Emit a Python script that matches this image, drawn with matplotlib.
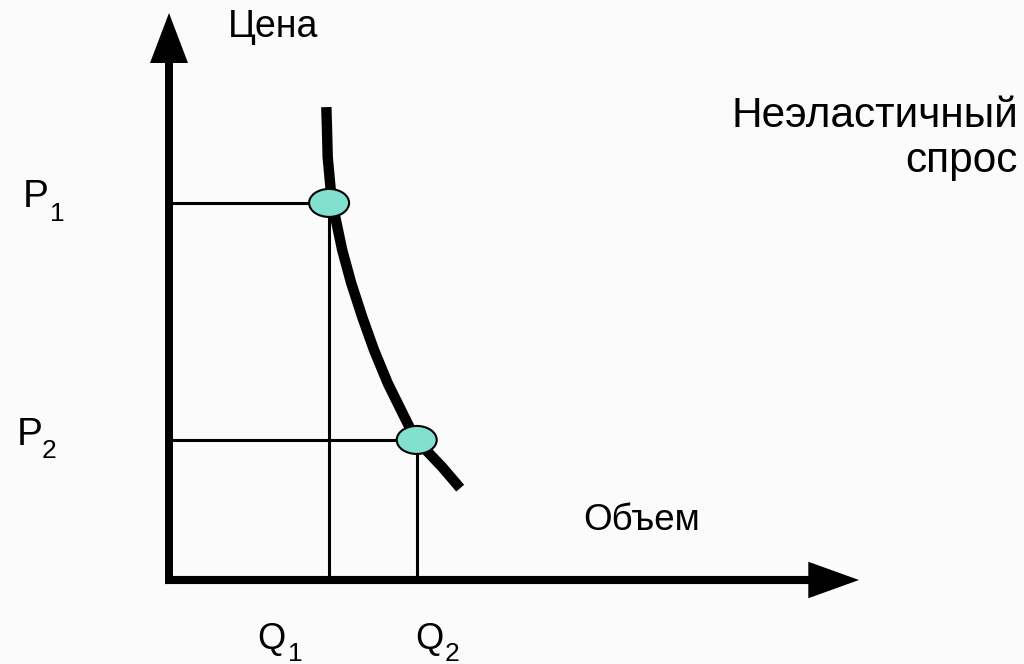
import matplotlib
matplotlib.use("Agg")
import matplotlib.pyplot as plt
from matplotlib.patches import Ellipse

plt.rcParams['font.family'] = ['Liberation Sans', 'DejaVu Sans']

# demand curve (quantity, price)
curve_q = [2.28, 2.29, 2.30, 2.33, 2.36, 2.41, 2.51, 2.64, 2.80, 2.97, 3.17, 3.41, 3.57, 3.96, 4.22]
curve_p = [8.34, 7.94, 7.46, 7.06, 6.67, 6.40, 5.82, 5.24, 4.64, 4.06, 3.47, 2.88, 2.49, 1.99, 1.62]

# the two marked points
point_q = [2.32, 3.59]
point_p = [6.65, 2.47]
price_labels = ["1", "2"]
qty_labels = ["1", "2"]

axis_q_max = 10.0
axis_p_max = 10.0

# pixel layout of the original slide
W, H = 1024, 664
X0, Y0 = 169, 580      # origin in pixels
SX, SY = 69.0, 56.7    # pixels per unit


def px(x, y):
    """pixel position -> data coords"""
    return (x - X0) / SX, (Y0 - y) / SY


fig = plt.figure(figsize=(W / 100, H / 100), dpi=100)
fig.patch.set_facecolor('#fbfbfb')
ax = fig.add_axes([0, 0, 1, 1])
ax.set_xlim(-X0 / SX, (W - X0) / SX)
ax.set_ylim((Y0 - H) / SY, Y0 / SY)
ax.axis('off')

# axes with arrow heads
arrow_v = 'simple,head_length=1.0,head_width=0.76,tail_width=0.16'
arrow_h = 'simple,head_length=1.0,head_width=0.72,tail_width=0.16'
ax.annotate('', xy=(0, axis_p_max), xytext=(0, -4 / SY),
            arrowprops=dict(arrowstyle=arrow_v, mutation_scale=36, fc='black',
                            ec='none', shrinkA=0, shrinkB=0))
ax.annotate('', xy=(axis_q_max, 0), xytext=(-4 / SX, 0),
            arrowprops=dict(arrowstyle=arrow_h, mutation_scale=36.5, fc='black',
                            ec='none', shrinkA=0, shrinkB=0))

# guide lines to the axes
for q, p in zip(point_q, point_p):
    ax.plot([0, q], [p, p], color='black', lw=2.2, zorder=2, solid_capstyle='butt')
    ax.plot([q, q], [p, 0], color='black', lw=2.2, zorder=2, solid_capstyle='butt')

# demand curve
ax.plot(curve_q, curve_p, color='black', lw=7.5, zorder=3,
        solid_capstyle='butt', solid_joinstyle='round')

# points
for q, p in zip(point_q, point_p):
    ax.add_patch(Ellipse((q, p), width=40 / SX, height=28 / SY, facecolor='#82e0cf',
                         edgecolor='black', lw=1.5, zorder=4))

# texts
ax.text(*px(228, 37), "Цена", fontsize=27, ha='left', va='baseline')
ax.text(*px(1018, 127), "Неэластичный", fontsize=30.5, ha='right', va='baseline')
ax.text(*px(1018, 172), "спрос", fontsize=30.5, ha='right', va='baseline')
ax.text(*px(583, 530), "Объем", fontsize=26.5, ha='left', va='baseline')

# price labels P1, P2
p_pos = [(23, 207, 50, 221), (17, 445, 42, 458)]
for lab, (xl, yl, xs, ys) in zip(price_labels, p_pos):
    ax.text(*px(xl, yl), "P", fontsize=28, ha='left', va='baseline')
    ax.text(*px(xs, ys), lab, fontsize=19, ha='left', va='baseline')

# quantity labels Q1, Q2
q_pos = [(257, 649, 288, 661), (415, 649, 445, 661)]
for lab, (xl, yl, xs, ys) in zip(qty_labels, q_pos):
    ax.text(*px(xl, yl), "Q", fontsize=26, ha='left', va='baseline')
    ax.text(*px(xs, ys), lab, fontsize=19, ha='left', va='baseline')

fig.savefig('out.png', dpi=100, facecolor=fig.get_facecolor())
